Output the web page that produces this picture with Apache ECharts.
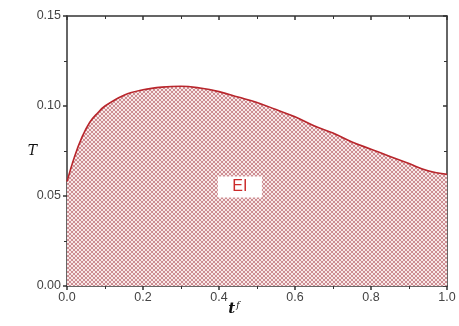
<!DOCTYPE html>
<html>
<head>
<meta charset="utf-8">
<script src="https://cdn.jsdelivr.net/npm/echarts@6/dist/echarts.min.js"></script>
<style>
  html, body { margin: 0; padding: 0; background: #fff; }
  #chart { width: 459px; height: 326px; }
</style>
</head>
<body>
<div id="chart"></div>
<script>
// curve
const tValues = [0, 0.02, 0.04, 0.06, 0.08, 0.1, 0.15, 0.2, 0.25, 0.3, 0.35, 0.4, 0.45, 0.5,
  0.55, 0.6, 0.65, 0.7, 0.75, 0.8, 0.85, 0.9, 0.95, 1.0];
const TValues = [0.058, 0.072, 0.083, 0.091, 0.096, 0.100, 0.106, 0.109, 0.1105, 0.111, 0.110,
  0.108, 0.105, 0.102, 0.098, 0.094, 0.089, 0.085, 0.080, 0.076, 0.072, 0.068, 0.064, 0.062];
const regionLabel = "EI";
const labelPos = [0.455, 0.055];

const chartDom = document.getElementById("chart");
const myChart = echarts.init(chartDom);

// crosshatch fill
const pat = document.createElement("canvas");
pat.width = 4;
pat.height = 4;
const pctx = pat.getContext("2d");
pctx.fillStyle = "#f8e8e8";
pctx.fillRect(0, 0, 4, 4);
pctx.strokeStyle = "rgba(180,90,98,0.8)";
pctx.lineWidth = 0.8;
pctx.beginPath();
pctx.moveTo(0, 0); pctx.lineTo(4, 4);
pctx.moveTo(4, 0); pctx.lineTo(0, 4);
pctx.stroke();

const axisCol = "#333";

const option = {
  animation: false,
  grid: { left: 67, right: 12, top: 16, bottom: 40, outerBoundsMode: "none" },
  xAxis: [
    {
      type: "value",
      min: 0,
      max: 1,
      interval: 0.2,
      name: "{t|t}{f|f}",
      nameLocation: "middle",
      nameGap: 15,
      nameMoveOverlap: false,
      nameTextStyle: {
        padding: [0, 46, 0, 0],
        rich: {
          t: { fontFamily: "DejaVu Serif", fontStyle: "italic", fontWeight: "bold", fontSize: 15, color: "#111" },
          f: { fontFamily: "DejaVu Serif", fontStyle: "italic", fontSize: 9, color: "#111", verticalAlign: "top", padding: [0, 0, 8, 1] },
        },
      },
      axisLine: { onZero: false, lineStyle: { color: axisCol, width: 1.5 } },
      axisTick: { inside: false, length: 4, lineStyle: { color: axisCol, width: 1.5 } },
      minorTick: { show: true, splitNumber: 2, length: 3, lineStyle: { color: axisCol } },
      axisLabel: { formatter: (v) => v.toFixed(1), color: "#444", fontSize: 12.5, fontFamily: "Liberation Sans", margin: 5 },
      splitLine: { show: false },
    },
    {
      type: "value",
      position: "top",
      min: 0,
      max: 1,
      interval: 0.2,
      axisLine: { onZero: false, lineStyle: { color: axisCol, width: 1.5 } },
      axisTick: { inside: true, length: 4, lineStyle: { color: axisCol, width: 1.5 } },
      minorTick: { show: true, splitNumber: 2, length: 3, lineStyle: { color: axisCol } },
      axisLabel: { show: false },
      splitLine: { show: false },
    },
  ],
  yAxis: [
    {
      type: "value",
      min: 0,
      max: 0.15,
      interval: 0.05,
      name: "T",
      nameLocation: "middle",
      nameGap: 30,
      nameRotate: 0,
      nameMoveOverlap: false,
      nameTextStyle: { fontFamily: "DejaVu Serif", fontStyle: "italic", fontSize: 14, color: "#111" },
      axisLine: { onZero: false, lineStyle: { color: axisCol, width: 1.5 } },
      axisTick: { inside: false, length: 4, lineStyle: { color: axisCol, width: 1.5 } },
      minorTick: { show: true, splitNumber: 2, length: 3, lineStyle: { color: axisCol } },
      axisLabel: { formatter: (v) => v.toFixed(2), color: "#444", fontSize: 12.5, fontFamily: "Liberation Sans", margin: 6 },
      splitLine: { show: false },
    },
    {
      type: "value",
      position: "right",
      min: 0,
      max: 0.15,
      interval: 0.05,
      axisLine: { onZero: false, lineStyle: { color: axisCol, width: 1.5 } },
      axisTick: { inside: true, length: 4, lineStyle: { color: axisCol, width: 1.5 } },
      minorTick: { show: true, splitNumber: 2, length: 3, lineStyle: { color: axisCol } },
      axisLabel: { show: false },
      splitLine: { show: false },
    },
  ],
  series: [
    {
      type: "line",
      data: tValues.map((t, i) => [t, TValues[i]]),
      smooth: 0.4,
      symbol: "none",
      lineStyle: { color: "#b8262c", width: 1.6 },
      areaStyle: { color: { image: pat, repeat: "repeat" }, opacity: 1 },
      markPoint: {
        symbol: "rect",
        symbolSize: [44, 21],
        itemStyle: { color: "#fff" },
        label: { show: true, formatter: regionLabel, color: "#cc2a2a", fontSize: 16, fontFamily: "Liberation Sans" },
        data: [{ coord: labelPos }],
      },
    },
  ],
};

myChart.setOption(option);
</script>
</body>
</html>
